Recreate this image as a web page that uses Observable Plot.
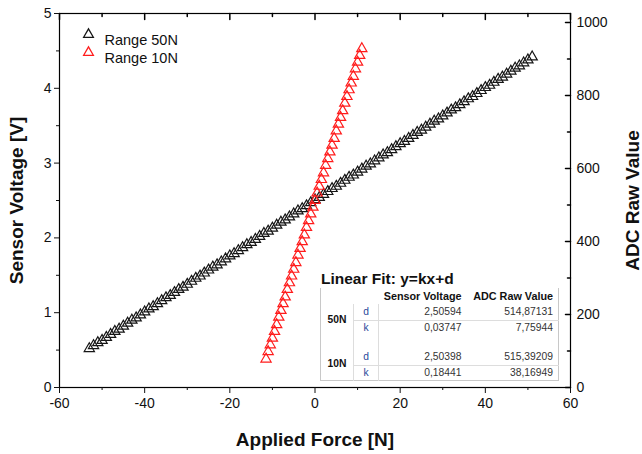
<!DOCTYPE html>
<html><head><meta charset="utf-8">
<script src="https://cdn.jsdelivr.net/npm/d3@7"></script>
<script src="https://cdn.jsdelivr.net/npm/@observablehq/plot@0.6"></script>
<style>
html,body{margin:0;padding:0;background:#fff;}
#wrap{position:relative;width:642px;height:454px;font-family:"Liberation Sans",Arial,sans-serif;color:#111;}
#wrap svg g[aria-label="x-axis label"] text,
#wrap svg g[aria-label="y-axis label"] text{font-weight:bold;font-size:19px;fill:#111;}
#fitTitle{position:absolute;left:321px;top:270px;font-weight:bold;font-size:15.5px;}
#fit{position:absolute;left:320px;top:288px;border-collapse:collapse;background:#fff;font-size:10.3px;table-layout:fixed;
  border-left:1px solid #c8c8c8;border-right:1px solid #c8c8c8;border-bottom:1px solid #c8c8c8;}
#fit td{padding:0 4px;line-height:14px;white-space:nowrap;color:#333;}
#fit td.h{font-weight:bold;text-align:right;color:#111;font-size:10.8px;}
#fit td.g{font-weight:bold;text-align:center;border-right:1px solid #ddd;color:#111;}
#fit td.p{color:#2a4a9a;text-align:center;border-right:1px solid #ddd;}
#fit td.v{text-align:right;}
#fit tr.d td.p,#fit tr.d td.v{border-bottom:1px solid #ddd;}
</style>
</head><body>
<div id="wrap"></div>
<script>
// Range 50N series: applied force [N] and sensor voltage [V]
const force50 = [-53,-52,-51,-50,-49,-48,-47,-46,-45,-44,-43,-42,-41,-40,-39,-38,-37,-36,-35,-34,-33,-32,-31,-30,-29,-28,-27,-26,-25,-24,-23,-22,-21,-20,-19,-18,-17,-16,-15,-14,-13,-12,-11,-10,-9,-8,-7,-6,-5,-4,-3,-2,-1,0,1,2,3,4,5,6,7,8,9,10,11,12,13,14,15,16,17,18,19,20,21,22,23,24,25,26,27,28,29,30,31,32,33,34,35,36,37,38,39,40,41,42,43,44,45,46,47,48,49,50,51];
const volt50 = [0.52,0.56,0.60,0.63,0.67,0.71,0.75,0.78,0.82,0.86,0.90,0.93,0.97,1.01,1.05,1.08,1.12,1.16,1.20,1.23,1.27,1.31,1.34,1.38,1.42,1.46,1.49,1.53,1.57,1.61,1.64,1.68,1.72,1.76,1.79,1.83,1.87,1.91,1.94,1.98,2.02,2.06,2.09,2.13,2.17,2.21,2.24,2.28,2.32,2.36,2.39,2.43,2.47,2.51,2.54,2.58,2.62,2.66,2.69,2.73,2.77,2.81,2.84,2.88,2.92,2.96,2.99,3.03,3.07,3.11,3.14,3.18,3.22,3.26,3.29,3.33,3.37,3.41,3.44,3.48,3.52,3.56,3.59,3.63,3.67,3.71,3.74,3.78,3.82,3.86,3.89,3.93,3.97,4.01,4.04,4.08,4.12,4.15,4.19,4.23,4.27,4.30,4.34,4.38,4.42];
// Range 10N series
const force10 = [-11.5,-11,-10.5,-10,-9.5,-9,-8.5,-8,-7.5,-7,-6.5,-6,-5.5,-5,-4.5,-4,-3.5,-3,-2.5,-2,-1.5,-1,-0.5,0,0.5,1,1.5,2,2.5,3,3.5,4,4.5,5,5.5,6,6.5,7,7.5,8,8.5,9,9.5,10,10.5,11];
const volt10 = [0.38,0.48,0.57,0.66,0.75,0.84,0.94,1.03,1.12,1.21,1.31,1.40,1.49,1.58,1.67,1.77,1.86,1.95,2.04,2.14,2.23,2.32,2.41,2.50,2.60,2.69,2.78,2.87,2.97,3.06,3.15,3.24,3.33,3.43,3.52,3.61,3.70,3.80,3.89,3.98,4.07,4.16,4.26,4.35,4.44,4.53];
const seriesNames = ["Range 50N", "Range 10N"];
const seriesColors = ["#161616", "#ff1c1c"];
// axes
const xMajor = [-60,-40,-20,0,20,40,60];
const xMinor = [-50,-30,-10,10,30,50];
const yMajor = [0,1,2,3,4,5];
const yMinor = [0.5,1.5,2.5,3.5,4.5];
const adcMajor = [0,200,400,600,800,1000];
const adcMinor = [100,300,500,700,900];
const adcTop = 1025; // ADC value at the top of the right axis (5 V)
// fit table
const fitTitle = "Linear Fit: y=kx+d";
const fitHeaders = ["Sensor Voltage", "ADC Raw Value"];
const fitGroups = ["50N", "10N"];
const fitParams = ["d", "k"];
const fitVoltage = [["2,50594","0,03747"],["2,50398","0,18441"]];
const fitAdc = [["514,87131","7,75944"],["515,39209","38,16949"]];

const toVolt = a => a * 5 / adcTop;
const tickDown = {draw(c, l) { c.moveTo(0, 0); c.lineTo(0, l); }};
const tickLeft = {draw(c, l) { c.moveTo(0, 0); c.lineTo(-l, 0); }};
const ink = "#000";

const chart = Plot.plot({
  width: 642, height: 454,
  marginLeft: 59, marginRight: 72, marginTop: 13, marginBottom: 67,
  style: {fontFamily: "'Liberation Sans', Arial, sans-serif", fontSize: "14px", color: "#111", background: "#fff"},
  x: {domain: [-60, 60]},
  y: {domain: [0, 5]},
  marks: [
    Plot.frame({stroke: ink, strokeWidth: 1.2}),
    Plot.axisX(xMajor, {anchor: "bottom", tickSize: 6, tickPadding: 5, tickFormat: d => `${d}`,
      label: "Applied Force [N]", labelAnchor: "center", labelOffset: 58, labelArrow: "none"}),
    Plot.axisX(xMinor, {anchor: "bottom", tickSize: 3, tickFormat: () => "", label: null}),
    Plot.vector(xMajor, {x: d => d, frameAnchor: "top", length: 6, anchor: "start", shape: tickDown, stroke: ink}),
    Plot.vector(xMinor, {x: d => d, frameAnchor: "top", length: 3, anchor: "start", shape: tickDown, stroke: ink}),
    Plot.axisY(yMajor, {anchor: "left", tickSize: 5, tickPadding: 3, tickFormat: d => `${d}`,
      label: "Sensor Voltage [V]", labelAnchor: "center", labelOffset: 50, labelArrow: "none"}),
    Plot.axisY(yMinor, {anchor: "left", tickSize: 3, tickFormat: () => "", label: null}),
    Plot.axisY(adcMajor.map(toVolt), {anchor: "right", tickSize: 0, tickPadding: 6,
      tickFormat: v => `${Math.round(v * adcTop / 5)}`,
      label: "ADC Raw Value", labelAnchor: "center", labelOffset: 68, labelArrow: "none"}),
    Plot.vector(adcMajor, {y: toVolt, frameAnchor: "right", length: 5, anchor: "start", shape: tickLeft, stroke: ink}),
    Plot.vector(adcMinor, {y: toVolt, frameAnchor: "right", length: 3, anchor: "start", shape: tickLeft, stroke: ink}),
    Plot.dot(force50, {x: force50, y: volt50, symbol: "triangle", r: 3.8, stroke: seriesColors[0], strokeWidth: 1.2, fill: "none"}),
    Plot.dot(force10, {x: force10, y: volt10, symbol: "triangle", r: 3.8, stroke: seriesColors[1], strokeWidth: 1.2, fill: "none"}),
    Plot.dot([seriesNames[0]], {frameAnchor: "top-left", dx: 29, dy: 21, symbol: "triangle", r: 3.6, stroke: seriesColors[0], strokeWidth: 1.3}),
    Plot.dot([seriesNames[1]], {frameAnchor: "top-left", dx: 29, dy: 39, symbol: "triangle", r: 3.6, stroke: seriesColors[1], strokeWidth: 1.3}),
    Plot.text([seriesNames[0]], {text: d => d, frameAnchor: "top-left", dx: 45, dy: 21, textAnchor: "start", fontSize: 14.5, fill: "#111"}),
    Plot.text([seriesNames[1]], {text: d => d, frameAnchor: "top-left", dx: 45, dy: 39, textAnchor: "start", fontSize: 14.5, fill: "#111"})
  ]
});
const wrap = document.getElementById("wrap");
wrap.appendChild(chart);

// fit table overlay
const title = document.createElement("div");
title.id = "fitTitle"; title.textContent = fitTitle;
wrap.appendChild(title);
const colW = [33, 25, 87, 93];
let html = `<colgroup>${colW.map(w => `<col style="width:${w}px">`).join("")}</colgroup>`;
html += `<tr style="height:16px"><td></td><td></td><td class="h">${fitHeaders[0]}</td><td class="h" style="padding-right:5px">${fitHeaders[1]}</td></tr>`;
fitGroups.forEach((g, gi) => {
  if (gi > 0) html += `<tr style="height:14px"><td class="g"></td><td class="p"></td><td></td><td></td></tr>`;
  fitParams.forEach((p, pi) => {
    html += `<tr class="${p}" style="height:${pi === 0 ? 16 : 15}px">` +
      (pi === 0 ? `<td class="g" rowspan="2">${g}</td>` : "") +
      `<td class="p">${p}</td><td class="v">${fitVoltage[gi][pi]}</td><td class="v" style="padding-right:5px">${fitAdc[gi][pi]}</td></tr>`;
  });
});
const table = document.createElement("table");
table.id = "fit"; table.innerHTML = html;
wrap.appendChild(table);
</script>
</body></html>
